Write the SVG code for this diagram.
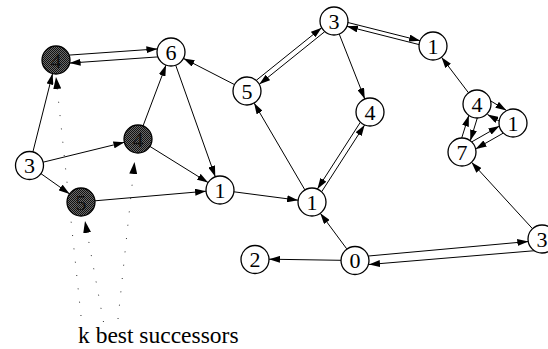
<svg xmlns="http://www.w3.org/2000/svg" width="548" height="349" viewBox="0 0 548 349">
  <style>
    .node circle { fill: #fff; stroke: #000; stroke-width: 1.3; }
    .node.best circle { fill: url(#stipple); }
    .node text { font-size: 22px; text-anchor: middle; fill: #000; }
    .node.best text { fill: #111; }
    #connectors line { stroke: #000; stroke-width: 1; fill: none; marker-end: url(#arrow); }
    #pointers line { stroke: #333; stroke-width: 1; stroke-dasharray: 1 12.4; fill: none; marker-end: url(#arrow-big); }
    .caption { font-size: 23.5px; fill: #000; }
  </style>
  <defs>
    <pattern id="stipple" width="2" height="2" patternUnits="userSpaceOnUse">
      <rect width="2" height="2" fill="#6a6a6a"/>
      <rect width="1" height="1" fill="#111"/>
      <rect x="1" y="1" width="1" height="1" fill="#111"/>
    </pattern>
    <marker id="arrow" viewBox="0 0 11 7" markerWidth="11" markerHeight="7" refX="11" refY="3.5" markerUnits="userSpaceOnUse" orient="auto">
      <path d="M0,0 L11,3.5 L0,7 z" fill="#000"/>
    </marker>
    <marker id="arrow-big" viewBox="0 0 12 8" markerWidth="12" markerHeight="8" refX="12" refY="4" markerUnits="userSpaceOnUse" orient="auto">
      <path d="M0,0 L12,4 L0,8 z" fill="#000"/>
    </marker>
  </defs>

  <rect width="548" height="349" fill="#fff"/>

  <!-- directed edges between states -->
  <g id="connectors">
    <line x1="69.1" y1="55.1" x2="157.4" y2="48.9"/>
    <line x1="157.9" y1="56.9" x2="69.6" y2="63.1"/>
    <line x1="234.5" y1="84.6" x2="183.5" y2="58.4"/>
    <line x1="175.7" y1="65.2" x2="215.3" y2="176.8"/>
    <line x1="143" y1="126" x2="166" y2="65.1"/>
    <line x1="149.9" y1="146.4" x2="208.1" y2="182.6"/>
    <line x1="32.9" y1="151.9" x2="52.6" y2="73.6"/>
    <line x1="43.1" y1="162.2" x2="124.4" y2="142.3"/>
    <line x1="40.9" y1="173.6" x2="69.6" y2="193.9"/>
    <line x1="95" y1="200.8" x2="206.1" y2="191.2"/>
    <line x1="233.9" y1="191.8" x2="298.1" y2="200.2"/>
    <line x1="304.9" y1="189.9" x2="254.1" y2="103.1"/>
    <line x1="360.4" y1="122.2" x2="317.4" y2="189"/>
    <line x1="321.6" y1="191.8" x2="364.6" y2="125"/>
    <line x1="339.2" y1="34" x2="364.8" y2="99"/>
    <line x1="256.2" y1="80.4" x2="321.7" y2="27.7"/>
    <line x1="324.8" y1="31.6" x2="259.3" y2="84.3"/>
    <line x1="347.9" y1="22.5" x2="420.1" y2="40.7"/>
    <line x1="419.1" y1="44.6" x2="346.9" y2="26.3"/>
    <line x1="468.5" y1="92.8" x2="441.5" y2="57.2"/>
    <line x1="490" y1="100.5" x2="506.5" y2="110.5"/>
    <line x1="500" y1="121.5" x2="487.5" y2="114.5"/>
    <line x1="477.3" y1="118" x2="470.3" y2="140.7"/>
    <line x1="461.7" y1="138" x2="468.8" y2="115.4"/>
    <line x1="471.7" y1="141.9" x2="499.4" y2="126.1"/>
    <line x1="503.3" y1="133.1" x2="475.6" y2="148.9"/>
    <line x1="532.5" y1="228.7" x2="471.5" y2="162.2"/>
    <line x1="346.7" y1="248.8" x2="320.3" y2="213.2"/>
    <line x1="341" y1="260.3" x2="269" y2="259.2"/>
    <line x1="368.5" y1="256" x2="528.3" y2="241.5"/>
    <line x1="555" y1="249" x2="369" y2="264.5"/>
  </g>

  <!-- dotted pointers from the caption to the shaded states -->
  <g id="pointers">
    <line x1="81" y1="316" x2="56" y2="77"/>
    <line x1="103.5" y1="322" x2="85" y2="221"/>
    <line x1="118" y1="319" x2="134.5" y2="162"/>
  </g>

  <!-- states -->
  <g font-family="Liberation Serif, Times New Roman, serif">
    <g id="n-a" class="node best"><circle cx="56" cy="60" r="14"/><text x="56" y="67.5">4</text></g>
    <g id="n-b" class="node best"><circle cx="138" cy="139" r="14"/><text x="138" y="146.5">4</text></g>
    <g id="n-c" class="node best"><circle cx="81" cy="202" r="14"/><text x="81" y="209.5">5</text></g>
    <g id="n3-left" class="node"><circle cx="29.5" cy="165.5" r="14"/><text x="29.5" y="173">3</text></g>
    <g id="n6" class="node"><circle cx="171" cy="52" r="14"/><text x="171" y="59.5">6</text></g>
    <g id="n5" class="node"><circle cx="247" cy="91" r="14"/><text x="247" y="98.5">5</text></g>
    <g id="n1-mid" class="node"><circle cx="220" cy="190" r="14"/><text x="220" y="197.5">1</text></g>
    <g id="n3-top" class="node"><circle cx="334" cy="21" r="14"/><text x="334" y="28.5">3</text></g>
    <g id="n1-top" class="node"><circle cx="433" cy="46" r="14"/><text x="433" y="53.5">1</text></g>
    <g id="n4-mid" class="node"><circle cx="370" cy="112" r="14"/><text x="370" y="119.5">4</text></g>
    <g id="n4-right" class="node"><circle cx="477" cy="104" r="14"/><text x="477" y="111.5">4</text></g>
    <g id="n1-right" class="node"><circle cx="513" cy="123" r="14"/><text x="513" y="130.5">1</text></g>
    <g id="n7" class="node"><circle cx="462" cy="152" r="14"/><text x="462" y="159.5">7</text></g>
    <g id="n1-center" class="node"><circle cx="312" cy="202" r="14"/><text x="312" y="209.5">1</text></g>
    <g id="n2" class="node"><circle cx="255" cy="259.5" r="14"/><text x="255" y="267">2</text></g>
    <g id="n0" class="node"><circle cx="355" cy="260.5" r="14"/><text x="355" y="268">0</text></g>
    <g id="n3-right" class="node"><circle cx="542" cy="239" r="14"/><text x="542" y="246.5">3</text></g>

    <text class="caption" x="78" y="343">k best successors</text>
  </g>
</svg>
